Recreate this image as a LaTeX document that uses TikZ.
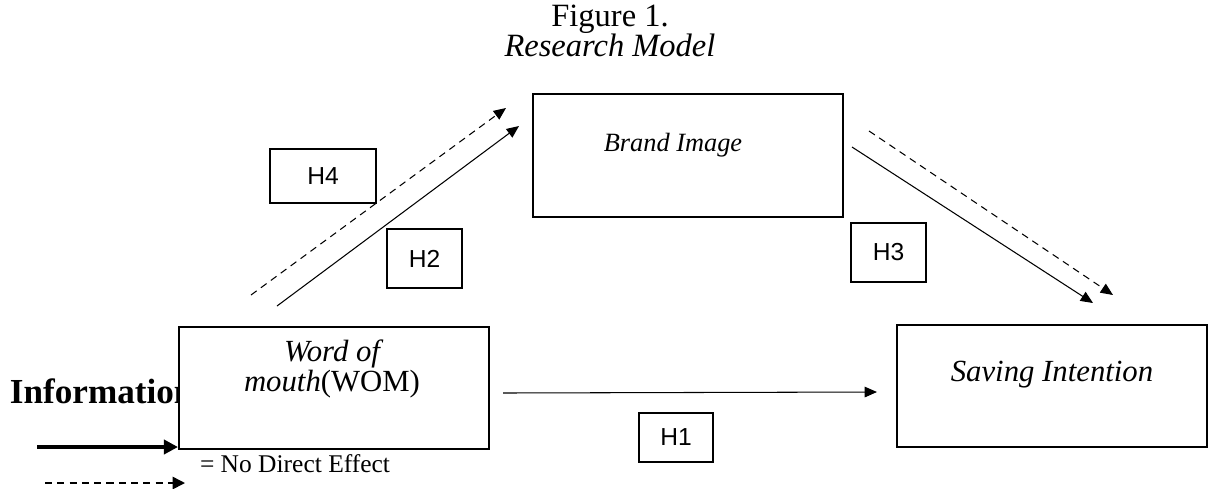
\documentclass[tikz,border=0pt]{standalone}
\usepackage{fontspec}
\setmainfont{Liberation Serif}
\newfontfamily\hsans{Liberation Sans}
\usetikzlibrary{arrows.meta}
\tikzset{
  every node/.style={inner sep=0pt, outer sep=0pt},
  box/.style={draw=black, line width=0.8pt, fill=white},
  hbox/.style={draw=black, line width=0.8pt, fill=white, font=\hsans\fontsize{14}{16}\selectfont},
  conn/.style={line width=0.6pt, -{Triangle[length=7pt,width=6pt]}},
  dconn/.style={conn, dash pattern=on 4pt off 3pt},
}
\begin{document}
\begin{tikzpicture}[x=0.02cm, y=-0.02cm]
\useasboundingbox (0,0) rectangle (1208,488);
% title
\node (fig) at (610,19) {\fontsize{18.5}{21}\selectfont Figure 1.};
\node (rm) at (610,45) {\fontsize{18.5}{21}\selectfont\itshape Research Model};
% legend text behind box
\node[anchor=west] (info) at (10,391) {\fontsize{20}{24}\selectfont\bfseries Information};
% main boxes
\node[box, minimum width=6.2cm, minimum height=2.46cm] (brand) at (688,155.5) {};
\node (brandt) at (673,145) {\fontsize{15}{18}\selectfont\itshape Brand Image};
\node[box, minimum width=6.2cm, minimum height=2.44cm] (wom) at (334,388) {};
\node[align=center] (womt) at (332,369) {\fontsize{17.5}{29}\selectfont\itshape Word of\\\fontsize{17.5}{29}\selectfont\itshape mouth\upshape(WOM)};
\node[box, minimum width=6.2cm, minimum height=2.44cm] (sav) at (1052,386) {};
\node (savt) at (1052,375) {\fontsize{17.5}{20}\selectfont\itshape Saving Intention};
% hypothesis labels
\node[hbox, minimum width=2.12cm, minimum height=1.08cm] (h4) at (323,176) {H4};
\node[hbox, minimum width=1.5cm, minimum height=1.18cm] (h2) at (424.5,258.5) {H2};
\node[hbox, minimum width=1.5cm, minimum height=1.18cm] (h3) at (888.5,252.5) {H3};
\node[hbox, minimum width=1.48cm, minimum height=0.98cm] (h1) at (676,437.5) {H1};
% connector end points
\coordinate (h2s) at (277,306);
\coordinate (h2e) at (519,126);
\coordinate (h4s) at (251,295);
\coordinate (h4e) at (506,108);
\coordinate (h3s) at (852,147);
\coordinate (h3e) at (1093,303);
\coordinate (h3ds) at (869,131);
\coordinate (h3de) at (1113,295);
\coordinate (h1s) at (503,393);
\coordinate (h1e) at (877,392);
\draw[conn] (h2s) -- (h2e);
\draw[dconn] (h4s) -- (h4e);
\draw[conn] (h3s) -- (h3e);
\draw[dconn] (h3ds) -- (h3de);
\draw[conn] (h1s) -- (h1e);
% legend
\coordinate (l1s) at (37,447);
\coordinate (l1e) at (178,447);
\coordinate (l2s) at (45,483);
\coordinate (l2e) at (185,483);
\draw[line width=2.3pt, -{Triangle[length=8pt,width=8pt]}] (l1s) -- (l1e);
\draw[line width=0.9pt, dash pattern=on 4pt off 3pt, -{Triangle[length=7pt,width=7pt]}] (l2s) -- (l2e);
\node[anchor=west] (nde) at (200,464) {\fontsize{14.5}{17}\selectfont = No Direct Effect};
\end{tikzpicture}
\end{document}
